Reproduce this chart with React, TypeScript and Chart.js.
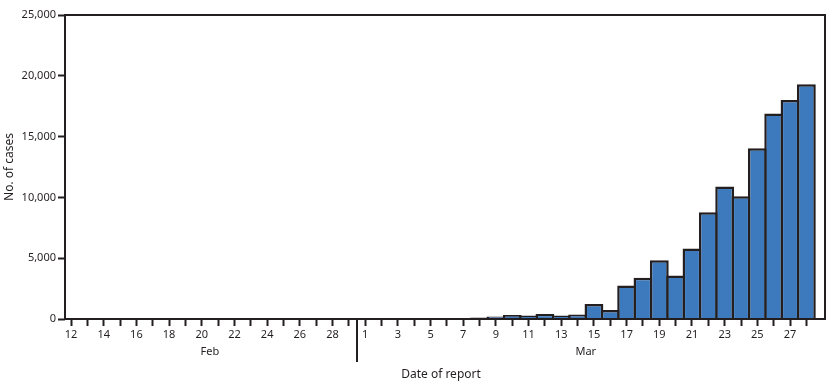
import React, { useEffect, useRef } from "react";
import { Chart, registerables } from "chart.js";

Chart.register(...registerables);

// Day of month for each reported date (Feb 12 – Mar 28, 2020)
const febDays = [12, 13, 14, 15, 16, 17, 18, 19, 20, 21, 22, 23, 24, 25, 26, 27, 28, 29];
const marDays = [1, 2, 3, 4, 5, 6, 7, 8, 9, 10, 11, 12, 13, 14, 15, 16, 17, 18, 19, 20, 21, 22, 23, 24, 25, 26, 27, 28];

// Number of cases per date of report
const febCases = [0, 0, 0, 0, 0, 0, 0, 0, 0, 0, 0, 0, 0, 0, 0, 0, 0, 0];
const marCases = [
  5, 10, 15, 40, 45, 50, 60, 130, 200, 330, 280, 410, 280, 360,
  1230, 750, 2750, 3400, 4830, 3580, 5800, 8780, 10900, 10100, 14050, 16900, 18000, 19300,
];

const monthNames = ["Feb", "Mar"];
const yTicks = [0, 5000, 10000, 15000, 20000, 25000];

const dayNumbers = [...febDays, ...marDays];
const cases = [...febCases, ...marCases];
const monthIndex = [...febDays.map(() => 0), ...marDays.map(() => 1)];

const INK = "#231f20";
const FONT = "'Noto Sans', 'DejaVu Sans', sans-serif";

const framePlugin = {
  id: "frame",
  afterDatasetsDraw(chart: any) {
    const { ctx, chartArea } = chart;
    ctx.save();
    ctx.strokeStyle = INK;
    ctx.lineWidth = 2;
    ctx.strokeRect(chartArea.left, chartArea.top, chartArea.right - chartArea.left, chartArea.bottom - chartArea.top);
    ctx.restore();
  },
  afterDraw(chart: any) {
    const { ctx, chartArea } = chart;
    const xs = chart.scales.x;
    ctx.save();
    ctx.fillStyle = INK;
    ctx.textAlign = "center";
    ctx.textBaseline = "middle";
    ctx.font = `11px ${FONT}`;
    monthNames.forEach((name, m) => {
      const idx = monthIndex.map((mi, i) => (mi === m ? i : -1)).filter((i) => i >= 0);
      const mid = (idx[0] + idx[idx.length - 1]) / 2;
      ctx.fillText(name, xs.getPixelForValue(mid), chartArea.bottom + 33);
    });
    // separator between months
    const firstMar = monthIndex.indexOf(1);
    const sx = xs.getPixelForValue(firstMar - 0.5);
    ctx.strokeStyle = INK;
    ctx.lineWidth = 2;
    ctx.beginPath();
    ctx.moveTo(sx, chartArea.bottom);
    ctx.lineTo(sx, chartArea.bottom + 43);
    ctx.stroke();
    // axis title
    ctx.font = `12px ${FONT}`;
    ctx.fillText("Date of report", (chartArea.left + chartArea.right) / 2 - 4, chartArea.bottom + 56);
    ctx.restore();
  },
};

export default function App() {
  const canvasRef = useRef<HTMLCanvasElement | null>(null);

  useEffect(() => {
    if (!canvasRef.current) return;
    const chart = new Chart(canvasRef.current, {
      type: "bar",
      data: {
        datasets: [
          {
            data: cases.map((v, i) => ({ x: i, y: v })),
            backgroundColor: "#3d79bd",
            borderColor: INK,
            borderWidth: 2.5,
            borderSkipped: "bottom",
            barPercentage: 1.153,
            categoryPercentage: 1,
          },
        ],
      },
      options: {
        responsive: false,
        animation: false,
        devicePixelRatio: 1,
        layout: { padding: { top: 15, right: 11, left: 0, bottom: 0 } },
        plugins: { legend: { display: false }, tooltip: { enabled: false } },
        scales: {
          x: {
            type: "linear",
            bounds: "data",
            offset: false,
            min: -0.37,
            max: 46.14,
            afterBuildTicks: (scale: any) => {
              scale.ticks = dayNumbers.map((_, i) => ({ value: i }));
            },
            afterFit: (scale: any) => {
              scale.height = 70;
            },
            ticks: {
              autoSkip: false,
              maxRotation: 0,
              minRotation: 0,
              includeBounds: false,
              padding: 2,
              color: INK,
              font: { family: FONT, size: 11 },
              callback: (v: any) => {
                const i = Math.round(Number(v));
                return i % 2 === 0 ? String(dayNumbers[i]) : "";
              },
            },
            grid: {
              offset: false,
              drawOnChartArea: false,
              drawTicks: true,
              tickLength: 7,
              tickWidth: 2,
              tickColor: INK,
            },
            border: { display: false },
          },
          y: {
            min: 0,
            max: 25000,
            afterBuildTicks: (scale: any) => {
              scale.ticks = yTicks.map((v) => ({ value: v }));
            },
            afterFit: (scale: any) => {
              scale.width = 65;
            },
            ticks: {
              padding: 2,
              color: INK,
              font: { family: FONT, size: 11 },
              callback: (v: any) => Number(v).toLocaleString("en-US"),
            },
            grid: {
              drawOnChartArea: false,
              drawTicks: true,
              tickLength: 7,
              tickWidth: 2,
              tickColor: INK,
            },
            border: { display: false },
            title: {
              display: true,
              text: "No. of cases",
              color: INK,
              font: { family: FONT, size: 12 },
              padding: { top: 2, bottom: 0 },
            },
          },
        },
      },
      plugins: [framePlugin],
    } as any);
    return () => chart.destroy();
  }, []);

  return (
    <div style={{ position: "fixed", left: 0, top: 0, width: 836, height: 389, background: "#fff" }}>
      <canvas ref={canvasRef} width={836} height={389} style={{ width: 836, height: 389, display: "block" }} />
    </div>
  );
}
